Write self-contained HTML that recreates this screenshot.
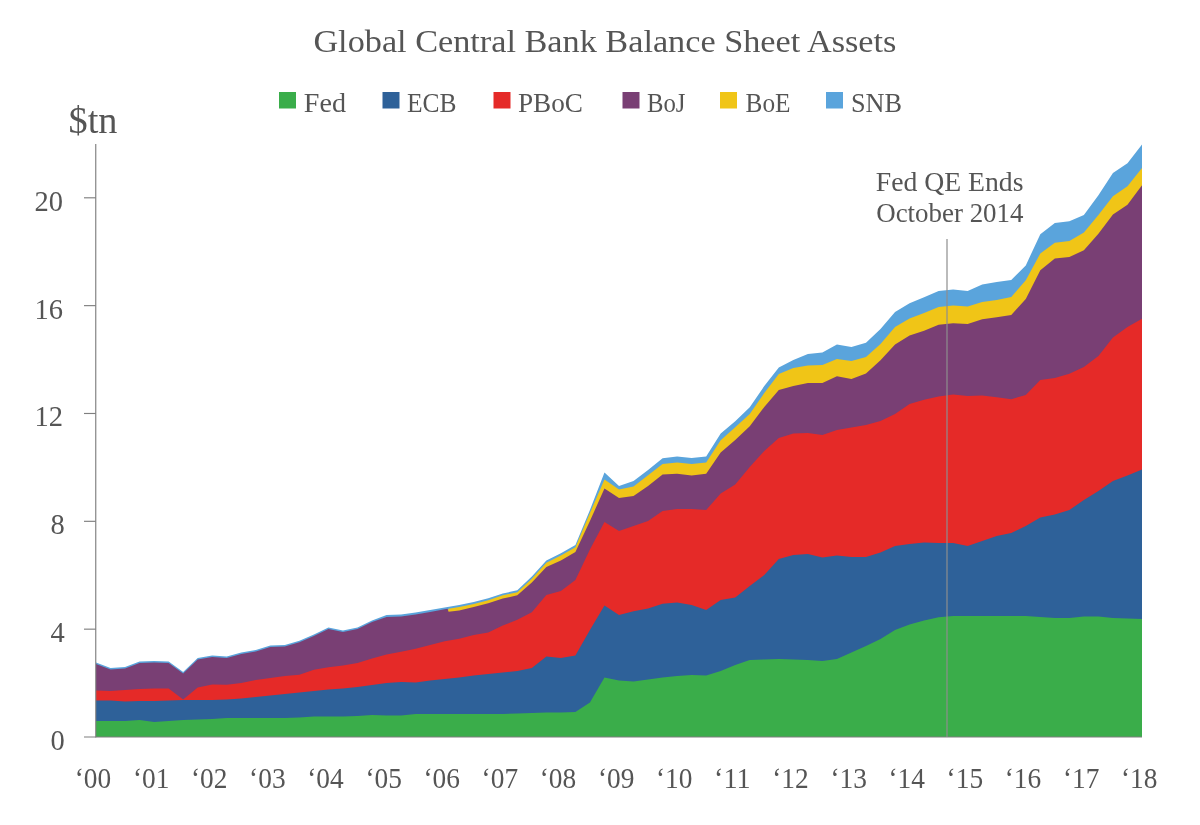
<!DOCTYPE html>
<html lang="en"><head><meta charset="utf-8"><title>Global Central Bank Balance Sheet Assets</title>
<style>html,body{margin:0;padding:0;background:#fff}body{width:1200px;height:825px;overflow:hidden}</style></head>
<body>
<svg width="1200" height="825" viewBox="0 0 1200 825" style="display:block">
<rect width="1200" height="825" fill="#ffffff"/>
<g shape-rendering="geometricPrecision">
<path d="M96.00,737.0 L96.00,662.50 L110.53,668.00 L125.06,667.00 L139.58,661.50 L154.11,661.00 L168.64,661.50 L183.17,672.00 L197.69,658.00 L212.22,655.50 L226.75,656.50 L241.28,652.50 L255.81,650.00 L270.33,645.50 L284.86,645.00 L299.39,640.75 L313.92,634.50 L328.44,627.50 L342.97,630.50 L357.50,627.50 L372.03,620.50 L386.56,615.00 L401.08,614.50 L415.61,612.50 L430.14,610.00 L444.67,607.50 L459.19,605.00 L473.72,602.00 L488.25,598.30 L502.78,593.50 L517.31,590.30 L531.83,576.50 L546.36,560.40 L560.89,553.30 L575.42,545.00 L589.94,510.00 L604.47,472.50 L619.00,486.00 L633.53,481.00 L648.06,470.00 L662.58,458.30 L677.11,456.50 L691.64,458.00 L706.17,456.50 L720.69,433.50 L735.22,421.30 L749.75,407.30 L764.28,386.00 L778.81,367.50 L793.33,360.00 L807.86,353.90 L822.39,352.60 L836.92,344.50 L851.44,347.00 L865.97,342.80 L880.50,329.00 L895.03,312.00 L909.56,303.30 L924.08,297.20 L938.61,291.00 L953.14,289.60 L967.67,291.00 L982.19,284.60 L996.72,282.00 L1011.25,280.00 L1025.78,265.40 L1040.31,234.20 L1054.83,223.00 L1069.36,221.20 L1083.89,215.00 L1098.42,195.30 L1112.94,173.00 L1127.47,163.30 L1142.00,144.40 L1142.00,737.0 Z" fill="#5aa4dc"/>
<path d="M96.00,737.0 L96.00,666.50 L110.53,672.00 L125.06,671.00 L139.58,665.50 L154.11,665.00 L168.64,665.50 L183.17,676.00 L197.69,662.00 L212.22,659.50 L226.75,660.50 L241.28,656.50 L255.81,654.00 L270.33,649.50 L284.86,649.00 L299.39,644.75 L313.92,638.50 L328.44,631.50 L342.97,634.50 L357.50,631.50 L372.03,624.50 L386.56,619.40 L401.08,618.90 L415.61,616.90 L430.14,614.40 L444.67,611.80 L447.57,611.34 L448.59,608.68 L459.19,607.00 L473.72,603.90 L488.25,600.20 L502.78,595.30 L517.31,592.20 L531.83,578.75 L546.36,562.75 L560.89,555.60 L575.42,547.30 L589.94,513.00 L604.47,479.50 L619.00,489.60 L633.53,486.50 L648.06,475.30 L662.58,463.90 L677.11,462.60 L691.64,464.00 L706.17,462.50 L720.69,440.30 L735.22,427.30 L749.75,413.90 L764.28,393.00 L778.81,374.00 L793.33,368.00 L807.86,365.60 L822.39,365.00 L836.92,359.00 L851.44,361.00 L865.97,357.00 L880.50,344.00 L895.03,327.00 L909.56,318.40 L924.08,313.00 L938.61,307.00 L953.14,305.50 L967.67,306.50 L982.19,302.00 L996.72,300.00 L1011.25,297.00 L1025.78,280.30 L1040.31,253.50 L1054.83,242.80 L1069.36,241.00 L1083.89,232.50 L1098.42,215.00 L1112.94,196.20 L1127.47,186.20 L1142.00,168.00 L1142.00,737.0 Z" fill="#f0c517"/>
<path d="M96.00,737.0 L96.00,664.00 L110.53,669.50 L125.06,668.50 L139.58,663.00 L154.11,662.50 L168.64,663.00 L183.17,673.50 L197.69,659.50 L212.22,657.00 L226.75,658.00 L241.28,654.00 L255.81,651.50 L270.33,647.00 L284.86,646.50 L299.39,642.25 L313.92,636.00 L328.44,629.00 L342.97,632.00 L357.50,629.00 L372.03,622.00 L386.56,616.90 L401.08,616.40 L415.61,614.40 L430.14,611.90 L444.67,609.30 L447.57,608.84 L448.59,611.68 L459.19,610.60 L473.72,607.00 L488.25,603.20 L502.78,598.60 L517.31,595.30 L531.83,582.50 L546.36,566.90 L560.89,560.60 L575.42,552.00 L589.94,521.00 L604.47,488.50 L619.00,498.00 L633.53,496.00 L648.06,486.00 L662.58,474.40 L677.11,473.80 L691.64,475.40 L706.17,473.80 L720.69,452.60 L735.22,440.00 L749.75,426.20 L764.28,407.00 L778.81,390.00 L793.33,386.00 L807.86,383.00 L822.39,383.00 L836.92,376.20 L851.44,379.00 L865.97,373.50 L880.50,360.30 L895.03,344.50 L909.56,335.50 L924.08,330.70 L938.61,324.80 L953.14,323.30 L967.67,324.00 L982.19,319.20 L996.72,317.20 L1011.25,315.00 L1025.78,299.00 L1040.31,270.30 L1054.83,258.50 L1069.36,257.00 L1083.89,250.30 L1098.42,233.80 L1112.94,214.60 L1127.47,204.80 L1142.00,185.30 L1142.00,737.0 Z" fill="#793f74"/>
<path d="M96.00,737.0 L96.00,690.50 L110.53,691.00 L125.06,690.00 L139.58,689.00 L154.11,688.50 L168.64,688.50 L183.17,699.50 L197.69,687.50 L212.22,684.50 L226.75,684.75 L241.28,683.00 L255.81,680.00 L270.33,678.00 L284.86,676.00 L299.39,674.75 L313.92,669.75 L328.44,667.25 L342.97,665.50 L357.50,663.00 L372.03,658.50 L386.56,654.50 L401.08,651.75 L415.61,648.75 L430.14,645.00 L444.67,641.25 L459.19,638.75 L473.72,635.00 L488.25,632.50 L502.78,625.60 L517.31,619.80 L531.83,612.20 L546.36,595.00 L560.89,591.00 L575.42,580.00 L589.94,549.50 L604.47,522.00 L619.00,531.00 L633.53,526.00 L648.06,521.00 L662.58,511.00 L677.11,509.00 L691.64,509.00 L706.17,510.00 L720.69,493.50 L735.22,484.50 L749.75,467.00 L764.28,451.00 L778.81,438.00 L793.33,433.50 L807.86,433.00 L822.39,435.00 L836.92,430.00 L851.44,427.50 L865.97,425.00 L880.50,421.00 L895.03,414.00 L909.56,404.00 L924.08,399.75 L938.61,396.50 L953.14,394.50 L967.67,396.00 L982.19,395.50 L996.72,397.25 L1011.25,399.25 L1025.78,395.00 L1040.31,380.00 L1054.83,378.00 L1069.36,373.75 L1083.89,367.00 L1098.42,356.00 L1112.94,337.50 L1127.47,327.00 L1142.00,318.75 L1142.00,737.0 Z" fill="#e52a28"/>
<path d="M96.00,737.0 L96.00,700.50 L110.53,700.50 L125.06,701.50 L139.58,701.00 L154.11,701.00 L168.64,700.50 L183.17,700.00 L197.69,700.00 L212.22,700.00 L226.75,699.50 L241.28,698.50 L255.81,697.00 L270.33,695.50 L284.86,694.00 L299.39,692.50 L313.92,691.00 L328.44,689.50 L342.97,688.50 L357.50,687.00 L372.03,685.00 L386.56,683.00 L401.08,682.00 L415.61,682.50 L430.14,680.50 L444.67,679.00 L459.19,677.50 L473.72,675.50 L488.25,674.00 L502.78,672.50 L517.31,671.00 L531.83,668.00 L546.36,656.50 L560.89,658.00 L575.42,655.50 L589.94,630.00 L604.47,605.50 L619.00,615.00 L633.53,611.30 L648.06,608.50 L662.58,603.75 L677.11,602.50 L691.64,605.00 L706.17,610.00 L720.69,600.00 L735.22,597.50 L749.75,586.00 L764.28,575.00 L778.81,559.00 L793.33,555.00 L807.86,554.00 L822.39,557.50 L836.92,555.50 L851.44,557.00 L865.97,557.00 L880.50,552.50 L895.03,546.00 L909.56,544.00 L924.08,542.50 L938.61,543.00 L953.14,543.00 L967.67,546.00 L982.19,541.00 L996.72,536.00 L1011.25,533.00 L1025.78,526.00 L1040.31,517.50 L1054.83,514.50 L1069.36,510.00 L1083.89,500.00 L1098.42,491.00 L1112.94,481.00 L1127.47,475.50 L1142.00,469.50 L1142.00,737.0 Z" fill="#2e6199"/>
<path d="M96.00,737.0 L96.00,721.00 L110.53,721.00 L125.06,721.00 L139.58,720.00 L154.11,722.00 L168.64,721.00 L183.17,720.00 L197.69,719.50 L212.22,719.00 L226.75,718.00 L241.28,718.00 L255.81,718.00 L270.33,718.00 L284.86,718.00 L299.39,717.50 L313.92,716.50 L328.44,716.50 L342.97,716.50 L357.50,716.00 L372.03,715.00 L386.56,715.50 L401.08,715.50 L415.61,714.00 L430.14,714.00 L444.67,714.00 L459.19,714.00 L473.72,714.00 L488.25,714.00 L502.78,714.00 L517.31,713.50 L531.83,713.00 L546.36,712.50 L560.89,712.50 L575.42,712.00 L589.94,702.50 L604.47,677.50 L619.00,680.50 L633.53,681.50 L648.06,679.50 L662.58,677.50 L677.11,676.00 L691.64,675.00 L706.17,675.50 L720.69,671.00 L735.22,665.00 L749.75,660.00 L764.28,659.50 L778.81,659.00 L793.33,659.50 L807.86,660.00 L822.39,661.00 L836.92,659.00 L851.44,652.50 L865.97,646.00 L880.50,639.00 L895.03,630.00 L909.56,624.50 L924.08,620.50 L938.61,617.25 L953.14,616.00 L967.67,616.00 L982.19,616.00 L996.72,616.00 L1011.25,616.00 L1025.78,616.00 L1040.31,617.00 L1054.83,618.00 L1069.36,618.00 L1083.89,616.50 L1098.42,616.50 L1112.94,618.00 L1127.47,618.50 L1142.00,619.00 L1142.00,737.0 Z" fill="#3aad4a"/>
</g>
<g stroke="#7f7f7f" stroke-width="1.15" fill="none">
<line x1="95.75" y1="144" x2="95.75" y2="737.5"/>
<line x1="84" y1="737" x2="1142" y2="737"/>
<line x1="84" y1="629.16" x2="95.75" y2="629.16"/>
<line x1="84" y1="521.32" x2="95.75" y2="521.32"/>
<line x1="84" y1="413.48" x2="95.75" y2="413.48"/>
<line x1="84" y1="305.64" x2="95.75" y2="305.64"/>
<line x1="84" y1="197.80" x2="95.75" y2="197.80"/>
</g>
<line x1="947" y1="239" x2="947" y2="737" stroke="#8e8e8e" stroke-width="1.2"/>
<g font-family="'Liberation Serif', serif" fill="#555555">
<text x="313.4" y="51.5" font-size="32.3" textLength="583" lengthAdjust="spacingAndGlyphs">Global Central Bank Balance Sheet Assets</text>
<rect x="279" y="92" width="17" height="16.5" fill="#3aad4a"/>
<text x="303.8" y="112.3" font-size="26.4" textLength="42.19999999999999" lengthAdjust="spacingAndGlyphs">Fed</text>
<rect x="382.5" y="92" width="17" height="16.5" fill="#2e6199"/>
<text x="407" y="112.3" font-size="26.4" textLength="49.5" lengthAdjust="spacingAndGlyphs">ECB</text>
<rect x="493.5" y="92" width="17" height="16.5" fill="#e52a28"/>
<text x="518" y="112.3" font-size="26.4" textLength="65" lengthAdjust="spacingAndGlyphs">PBoC</text>
<rect x="622.5" y="92" width="17" height="16.5" fill="#793f74"/>
<text x="647" y="112.3" font-size="26.4" textLength="38.5" lengthAdjust="spacingAndGlyphs">BoJ</text>
<rect x="720" y="92" width="17" height="16.5" fill="#f0c517"/>
<text x="745.5" y="112.3" font-size="26.4" textLength="45.0" lengthAdjust="spacingAndGlyphs">BoE</text>
<rect x="826" y="92" width="17" height="16.5" fill="#5aa4dc"/>
<text x="851" y="112.3" font-size="26.4" textLength="51" lengthAdjust="spacingAndGlyphs">SNB</text>
<text x="68.5" y="133" font-size="38" textLength="49" lengthAdjust="spacingAndGlyphs">$tn</text>
<text x="50.5" y="750.00" font-size="29" textLength="14.25" lengthAdjust="spacingAndGlyphs">0</text>
<text x="50.5" y="642.16" font-size="29" textLength="14.25" lengthAdjust="spacingAndGlyphs">4</text>
<text x="50.5" y="534.32" font-size="29" textLength="14.25" lengthAdjust="spacingAndGlyphs">8</text>
<text x="34.5" y="426.48" font-size="29" textLength="28.5" lengthAdjust="spacingAndGlyphs">12</text>
<text x="34.5" y="318.64" font-size="29" textLength="28.5" lengthAdjust="spacingAndGlyphs">16</text>
<text x="34.5" y="210.80" font-size="29" textLength="28.5" lengthAdjust="spacingAndGlyphs">20</text>
<text x="74.75" y="788.25" font-size="29" textLength="36.5" lengthAdjust="spacingAndGlyphs">‘00</text>
<text x="132.88" y="788.25" font-size="29" textLength="36.5" lengthAdjust="spacingAndGlyphs">‘01</text>
<text x="191.00" y="788.25" font-size="29" textLength="36.5" lengthAdjust="spacingAndGlyphs">‘02</text>
<text x="249.12" y="788.25" font-size="29" textLength="36.5" lengthAdjust="spacingAndGlyphs">‘03</text>
<text x="307.25" y="788.25" font-size="29" textLength="36.5" lengthAdjust="spacingAndGlyphs">‘04</text>
<text x="365.38" y="788.25" font-size="29" textLength="36.5" lengthAdjust="spacingAndGlyphs">‘05</text>
<text x="423.50" y="788.25" font-size="29" textLength="36.5" lengthAdjust="spacingAndGlyphs">‘06</text>
<text x="481.62" y="788.25" font-size="29" textLength="36.5" lengthAdjust="spacingAndGlyphs">‘07</text>
<text x="539.75" y="788.25" font-size="29" textLength="36.5" lengthAdjust="spacingAndGlyphs">‘08</text>
<text x="597.88" y="788.25" font-size="29" textLength="36.5" lengthAdjust="spacingAndGlyphs">‘09</text>
<text x="656.00" y="788.25" font-size="29" textLength="36.5" lengthAdjust="spacingAndGlyphs">‘10</text>
<text x="714.12" y="788.25" font-size="29" textLength="36.5" lengthAdjust="spacingAndGlyphs">‘11</text>
<text x="772.25" y="788.25" font-size="29" textLength="36.5" lengthAdjust="spacingAndGlyphs">‘12</text>
<text x="830.38" y="788.25" font-size="29" textLength="36.5" lengthAdjust="spacingAndGlyphs">‘13</text>
<text x="888.50" y="788.25" font-size="29" textLength="36.5" lengthAdjust="spacingAndGlyphs">‘14</text>
<text x="946.62" y="788.25" font-size="29" textLength="36.5" lengthAdjust="spacingAndGlyphs">‘15</text>
<text x="1004.75" y="788.25" font-size="29" textLength="36.5" lengthAdjust="spacingAndGlyphs">‘16</text>
<text x="1062.88" y="788.25" font-size="29" textLength="36.5" lengthAdjust="spacingAndGlyphs">‘17</text>
<text x="1121.00" y="788.25" font-size="29" textLength="36.5" lengthAdjust="spacingAndGlyphs">‘18</text>
<text x="875.75" y="190.75" font-size="26.8" textLength="147.75" lengthAdjust="spacingAndGlyphs">Fed QE Ends</text>
<text x="876.2" y="221.8" font-size="26.8" textLength="147.3" lengthAdjust="spacingAndGlyphs">October 2014</text>
</g>
</svg>
</body></html>
